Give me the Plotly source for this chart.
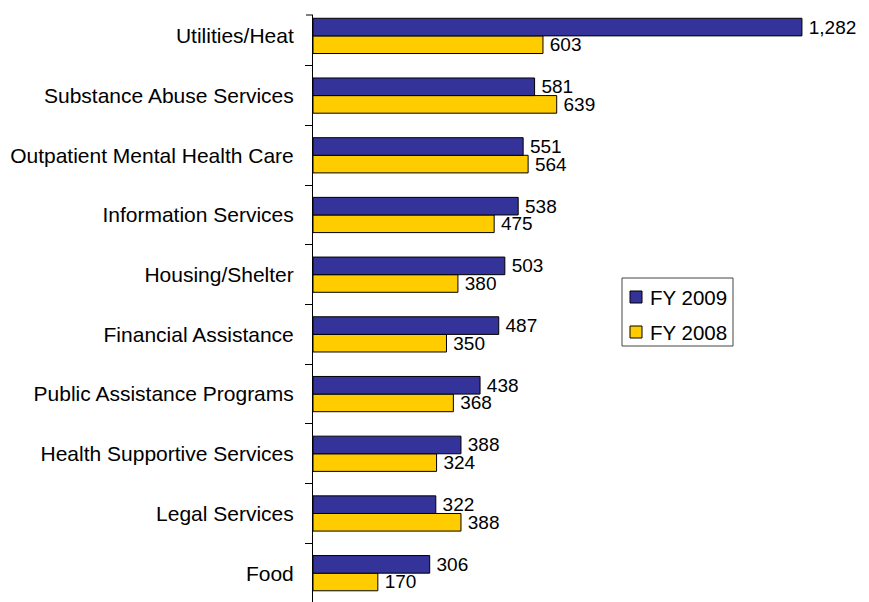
import plotly.graph_objects as go

categories = ["Utilities/Heat", "Substance Abuse Services", "Outpatient Mental Health Care",
              "Information Services", "Housing/Shelter", "Financial Assistance",
              "Public Assistance Programs", "Health Supportive Services", "Legal Services", "Food"]
fy2009 = [1282, 581, 551, 538, 503, 487, 438, 388, 322, 306]
fy2008 = [603, 639, 564, 475, 380, 350, 368, 324, 388, 170]
series_names = ["FY 2009", "FY 2008"]
series_colors = ["#333399", "#FFCC00"]

FONT = "Liberation Sans, Arial, sans-serif"
cats_bottom_up = categories[::-1]

# page body adds an 8px margin; compensate
OFF = 8
FIG_W, FIG_H = 869 - OFF, 602 - OFF
L = 313 - OFF
T = 15 - OFF
R = 20
W_PLOT = FIG_W - L - R
H_PLOT = FIG_H - T


def px(x):  # page pixel x -> paper
    return (x - OFF - L) / W_PLOT


def py(y):  # page pixel y -> paper
    return (FIG_H - (y - OFF)) / H_PLOT


fig = go.Figure()
fig.add_trace(go.Bar(
    y=categories, x=fy2008, orientation="h", name=series_names[1],
    marker=dict(color=series_colors[1], line=dict(color="black", width=1)),
    texttemplate="\u2009%{x:,}", textposition="outside", cliponaxis=False,
    constraintext="none",
    textfont=dict(family=FONT, size=19, color="black"),
))
fig.add_trace(go.Bar(
    y=categories, x=fy2009, orientation="h", name=series_names[0],
    marker=dict(color=series_colors[0], line=dict(color="black", width=1)),
    texttemplate="\u2009%{x:,}", textposition="outside", cliponaxis=False,
    constraintext="none",
    textfont=dict(family=FONT, size=19, color="black"),
))

fig.update_layout(
    width=FIG_W, height=FIG_H,
    margin=dict(l=L, r=R, t=T, b=0, autoexpand=False),
    paper_bgcolor="white", plot_bgcolor="white",
    barmode="group", bargap=0.41, bargroupgap=0,
    font=dict(family=FONT, size=20, color="black"),
    showlegend=False,
    xaxis=dict(range=[0, W_PLOT / 0.3814], visible=False, showgrid=False, zeroline=False),
    yaxis=dict(
        type="category", categoryorder="array", categoryarray=cats_bottom_up,
        range=[-0.483, 9.35],
        showline=True, linecolor="black", linewidth=1,
        ticks="outside", tickson="boundaries", ticklen=7, tickcolor="black", tickwidth=1,
        showgrid=False, zeroline=False,
        tickfont=dict(family=FONT, size=21, color="black"),
        ticklabelstandoff=14,
    ),
)
fig.add_shape(type="line", xref="paper", yref="paper", x0=-7 / W_PLOT, x1=0, y0=1, y1=1,
              line=dict(color="black", width=1))

# legend drawn manually to match box geometry
fig.add_shape(type="rect", xref="paper", yref="paper",
              x0=px(622), x1=px(733), y0=py(346), y1=py(278),
              line=dict(color="#444444", width=1), fillcolor="white", layer="above")
for i, (name, col) in enumerate(zip(series_names, series_colors)):
    cy = 297 + i * 35
    fig.add_shape(type="rect", xref="paper", yref="paper",
                  x0=px(630), x1=px(642), y0=py(cy + 6), y1=py(cy - 6),
                  line=dict(color="black", width=1), fillcolor=col, layer="above")
    fig.add_annotation(xref="paper", yref="paper", x=px(648), y=py(cy),
                       xanchor="left", yanchor="middle", showarrow=False, text=name,
                       font=dict(family=FONT, size=20.5, color="black"))

fig.write_html("out.html")
